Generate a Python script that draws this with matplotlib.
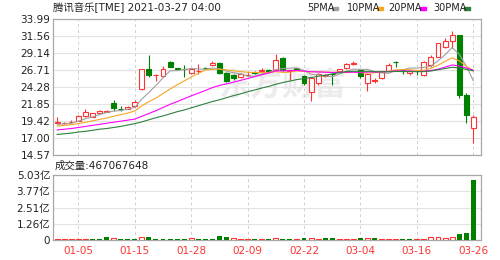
import matplotlib
matplotlib.use("Agg")
import matplotlib.pyplot as plt
from matplotlib.patches import Rectangle

plt.rcParams['font.family'] = ['DejaVu Sans', 'Noto Sans CJK SC']

# ---- data ----
tick_pos = [3, 11, 19, 27, 35, 43, 51, 59]
tick_labels = ["01-05", "01-15", "01-28", "02-09", "02-22", "03-04", "03-16", "03-26"]
price_ticks = [14.57, 17.00, 19.42, 21.85, 24.28, 26.71, 29.14, 31.56, 33.99]
vol_ticks = [0, 1.2575e8, 2.515e8, 3.7725e8, 5.03e8]
vol_tick_labels = ["0", "1.26亿", "2.51亿", "3.77亿", "5.03亿"]

opens = [19.10, 19.10, 19.25, 19.45, 20.15, 20.05, 20.60, 20.75, 22.00, 21.20,
         21.15, 21.55, 24.00, 26.80, 25.95, 25.90, 27.90, 27.00, 26.90, 26.30,
         26.50, 27.00, 27.40, 27.75, 26.30, 26.00, 25.75, 25.95, 26.45, 26.60,
         26.70, 26.70, 28.40, 26.60, 26.95, 25.85, 23.50, 24.80, 25.90, 26.20,
         26.50, 26.95, 27.60, 26.70, 24.80, 25.20, 25.50, 26.60, 27.90, 26.75,
         26.30, 26.60, 26.00, 27.40, 28.60, 29.95, 30.90, 31.70, 23.10, 18.40]
highs = [19.95, 19.35, 19.60, 20.30, 21.20, 20.60, 21.00, 21.00, 22.40, 21.60,
         21.50, 22.45, 26.90, 28.90, 26.10, 27.30, 28.00, 27.05, 27.40, 26.90,
         27.50, 27.20, 27.95, 27.80, 26.40, 26.10, 26.30, 26.40, 26.60, 27.00,
         26.90, 29.00, 28.50, 26.75, 27.05, 26.00, 25.70, 26.30, 26.20, 26.30,
         26.90, 27.65, 28.00, 26.90, 26.30, 25.50, 26.60, 27.70, 27.95, 26.90,
         26.70, 26.75, 28.00, 28.80, 30.60, 31.30, 32.30, 31.75, 23.40, 20.30]
lows = [19.05, 19.00, 19.15, 19.40, 20.05, 19.95, 20.50, 20.70, 20.90, 20.80,
        21.10, 21.45, 23.90, 25.70, 25.10, 25.80, 27.10, 26.80, 25.70, 26.20,
        26.20, 26.80, 27.30, 26.20, 25.00, 25.30, 25.60, 25.85, 26.10, 26.40,
        26.40, 26.50, 26.50, 25.30, 26.70, 24.60, 22.30, 24.50, 25.70, 24.60,
        26.40, 26.90, 27.40, 25.60, 23.75, 24.90, 25.40, 26.50, 27.20, 26.20,
        26.00, 26.00, 25.80, 27.20, 28.50, 29.80, 29.80, 22.70, 19.10, 16.30]
closes = [19.25, 19.20, 19.35, 20.20, 20.75, 20.50, 20.90, 20.85, 21.25, 21.10,
          21.45, 22.20, 26.80, 26.00, 26.05, 26.90, 27.20, 26.90, 26.80, 26.80,
          26.60, 26.95, 27.75, 26.30, 25.10, 25.50, 26.10, 26.05, 26.35, 26.70,
          26.55, 28.20, 26.70, 26.70, 26.85, 24.80, 25.50, 26.20, 26.00, 26.10,
          26.80, 27.55, 27.70, 25.85, 26.10, 25.30, 26.55, 27.40, 27.80, 26.60,
          26.60, 26.50, 27.90, 28.60, 30.50, 30.90, 31.70, 23.10, 20.30, 19.95]

ma5 = [18.95, 19.00, 19.10, 19.40, 19.75, 20.00, 20.34, 20.64, 20.85, 20.92,
       21.11, 21.37, 22.56, 23.51, 24.50, 25.59, 26.59, 26.61, 26.77, 26.92,
       26.86, 26.81, 26.98, 26.88, 26.54, 26.32, 26.15, 25.81, 25.82, 26.14,
       26.35, 26.77, 26.90, 26.97, 27.00, 26.65, 26.11, 26.01, 25.87, 25.72,
       26.12, 26.53, 26.83, 26.80, 26.80, 26.50, 26.30, 26.24, 26.63, 26.73,
       26.99, 26.98, 27.08, 27.24, 28.02, 28.88, 29.92, 28.96, 27.30, 25.19]
ma10 = [18.70, 18.80, 18.90, 19.05, 19.25, 19.45, 19.65, 19.85, 20.10, 20.34,
        20.56, 20.86, 21.60, 22.18, 22.71, 23.35, 23.98, 24.59, 25.14, 25.71,
        26.23, 26.70, 26.80, 26.83, 26.73, 26.59, 26.48, 26.40, 26.35, 26.34,
        26.34, 26.46, 26.36, 26.40, 26.57, 26.50, 26.44, 26.46, 26.42, 26.36,
        26.39, 26.32, 26.42, 26.34, 26.26, 26.31, 26.42, 26.54, 26.72, 26.77,
        26.75, 26.64, 26.66, 26.94, 27.38, 27.94, 28.45, 28.02, 27.27, 26.61]
ma20 = [18.15, 18.25, 18.35, 18.50, 18.65, 18.80, 18.95, 19.10, 19.25, 19.40,
        19.55, 19.70, 20.10, 20.50, 20.90, 21.35, 21.80, 22.20, 22.60, 23.02,
        23.39, 23.78, 24.20, 24.50, 24.72, 24.97, 25.23, 25.49, 25.75, 26.03,
        26.28, 26.58, 26.58, 26.61, 26.65, 26.55, 26.46, 26.43, 26.39, 26.35,
        26.36, 26.39, 26.39, 26.37, 26.42, 26.41, 26.43, 26.50, 26.57, 26.56,
        26.57, 26.48, 26.54, 26.64, 26.82, 27.12, 27.43, 27.28, 26.99, 26.69]
ma30 = [17.50, 17.60, 17.70, 17.85, 17.95, 18.10, 18.25, 18.35, 18.50, 18.65,
        18.85, 19.05, 19.30, 19.60, 19.90, 20.15, 20.45, 20.75, 21.00, 21.30,
        21.60, 21.90, 22.20, 22.45, 22.75, 23.05, 23.30, 23.60, 23.85, 24.13,
        24.37, 24.67, 24.92, 25.13, 25.34, 25.48, 25.63, 25.81, 25.97, 26.14,
        26.32, 26.49, 26.52, 26.52, 26.52, 26.47, 26.45, 26.46, 26.50, 26.49,
        26.49, 26.47, 26.48, 26.56, 26.74, 26.92, 27.10, 27.00, 26.80, 26.58]

# volume in shares, colour by the chart's own up/down flag
volumes = [7e6, 6e6, 6e6, 7e6, 8e6, 6e6, 7e6, 22e6, 14e6, 8e6,
           7e6, 8e6, 26e6, 24e6, 9e6, 8e6, 8e6, 7e6, 7e6, 12e6,
           7e6, 7e6, 7e6, 28e6, 27e6, 12e6, 8e6, 8e6, 7e6, 7e6,
           8e6, 14e6, 8e6, 7e6, 8e6, 15e6, 14e6, 8e6, 14e6, 13e6,
           7e6, 7e6, 8e6, 18e6, 12e6, 12e6, 8e6, 7e6, 7e6, 8e6,
           7e6, 7e6, 8e6, 25e6, 24e6, 13e6, 21e6, 44e6, 52e6, 467067648]
vol_up = "rrrrrgggrgggrggggggrgggggrrrgrgrggrgrrggrrrgrgrrrggrrrrrrggg"

RED = "#ff3333"
GREEN = "#008000"
GRID = "#e3e3e3"
SPINE = "#a8a8a8"

W, H = 500, 260
fig = plt.figure(figsize=(W / 100, H / 100), dpi=100)
ax = fig.add_axes([53 / W, 1 - 155 / H, 428 / W, 136 / H])
vax = fig.add_axes([53 / W, 1 - 240 / H, 428 / W, 65 / H])

n = len(closes)
xs = list(range(n))

# watermark
ax.text(0.535, 0.5, "东方财富", transform=ax.transAxes, fontsize=23,
        fontweight="bold", color="#ececec", ha="center", va="center",
        family=["Noto Sans CJK SC"], zorder=0)

# ---- candles ----
for i in xs:
    o, h, l, c = opens[i], highs[i], lows[i], closes[i]
    up = c >= o
    col = RED if up else GREEN
    ax.vlines(i, l, h, color=col, linewidth=0.8, zorder=2)
    body = max(abs(c - o), 0.03)
    ax.bar(i, body, bottom=min(o, c), width=0.7,
           facecolor="white" if up else GREEN, edgecolor=col,
           linewidth=0.8, zorder=3)

ax.plot(xs, ma5, color="#a0a0a0", linewidth=0.8, zorder=4)
ax.plot(xs, ma10, color="#f5a623", linewidth=0.8, zorder=4)
ax.plot(xs, ma20, color="#ff00ff", linewidth=0.8, zorder=4)
ax.plot(xs, ma30, color="#2e8040", linewidth=0.8, zorder=4)

ax.set_xlim(-0.6, 60.1)
ax.set_ylim(price_ticks[0], price_ticks[-1])
ax.set_yticks(price_ticks)
ax.set_yticklabels([f"{t:.2f}" for t in price_ticks])
ax.set_xticks(tick_pos)
ax.set_xticklabels([])

# ---- volume ----
for i in xs:
    if vol_up[i] == "r":
        vax.bar(i, volumes[i], width=0.7, facecolor="white", edgecolor=RED,
                linewidth=0.8, zorder=3)
    else:
        vax.bar(i, volumes[i], width=0.7, color=GREEN, linewidth=0, zorder=3)

vax.set_xlim(-0.6, 60.1)
vax.set_ylim(0, vol_ticks[-1])
vax.set_yticks(vol_ticks)
vax.set_yticklabels(vol_tick_labels)
vax.set_xticks(tick_pos)
vax.set_xticklabels(tick_labels, color=RED)

for a in (ax, vax):
    a.grid(True, axis="y", color=GRID, linewidth=0.8, zorder=0)
    a.grid(True, axis="x", color="#cfcfcf", linewidth=0.7,
           linestyle=(0, (3, 3)), zorder=0)
    a.set_axisbelow(True)
    for s in a.spines.values():
        s.set_color(SPINE)
        s.set_linewidth(0.9)
    a.tick_params(length=0, labelsize=7.5, colors="#222222", pad=2)
vax.tick_params(axis="x", colors=RED, pad=4)

# ---- header texts ----
fig.text(53 / W, 1 - 8 / H, "腾讯音乐[TME] 2021-03-27 04:00", fontsize=7.5,
         color="#222222", va="center", ha="left")
fig.text(55 / W, 1 - 166 / H, "成交量:467067648", fontsize=7.5,
         color="#222222", va="center", ha="left")

legend = [("5PMA", 307, 332, "#a0a0a0"), ("10PMA", 347, 377, "#f5a623"),
          ("20PMA", 388, 420, "#ff00ff"), ("30PMA", 433, 464, "#2e8040")]
for label, tx, rx, col in legend:
    fig.text(tx / W, 1 - 8 / H, label, fontsize=7, color="#222222",
             va="center", ha="left")
    fig.add_artist(Rectangle((rx / W, 1 - 9.5 / H), 6 / W, 3 / H,
                             transform=fig.transFigure, color=col))

fig.savefig("out.png", dpi=100)
